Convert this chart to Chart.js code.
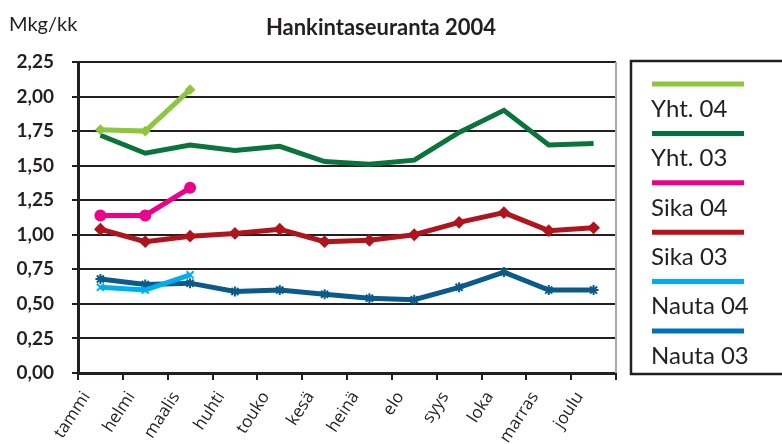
<!DOCTYPE html>
<html>
<head>
<meta charset="utf-8">
<style>
    body { margin: 0; background: #fff; }
    canvas { display: block; }
</style>
</head>
<body>
<canvas id="hankintaChart" width="782" height="444"></canvas>

<script src="https://cdn.jsdelivr.net/npm/chart.js"></script>
<script>
    // kuukaudet ja sarjat (Mkg/kk)
    const months = ['tammi', 'helmi', 'maalis', 'huhti', 'touko', 'kesä', 'heinä', 'elo', 'syys', 'loka', 'marras', 'joulu'];
    const seriesNames = ['Yht. 04', 'Yht. 03', 'Sika 04', 'Sika 03', 'Nauta 04', 'Nauta 03'];
    const yht04 = [1.76, 1.75, 2.05];
    const yht03 = [1.72, 1.59, 1.65, 1.61, 1.64, 1.53, 1.51, 1.54, 1.74, 1.90, 1.65, 1.66];
    const sika04 = [1.14, 1.14, 1.34];
    const sika03 = [1.04, 0.95, 0.99, 1.01, 1.04, 0.95, 0.96, 1.00, 1.09, 1.16, 1.03, 1.05];
    const nauta04 = [0.62, 0.60, 0.71];
    const nauta03 = [0.68, 0.64, 0.65, 0.59, 0.60, 0.57, 0.54, 0.53, 0.62, 0.73, 0.60, 0.60];
    const yMin = 0, yMax = 2.25, yStep = 0.25;

    const lineColors = ['#8DC63F', '#0B743C', '#EC008C', '#B0141C', '#00AEEF', '#0A5A8A'];
    const legendColors = ['#8DC63F', '#00703C', '#EC008C', '#B5121B', '#00AEEF', '#0072BC'];
    const markers = ['rectRot', 'circle', 'circle', 'rectRot', 'crossRot', 'star'];
    const markerSize = [4, 0, 5, 5, 5, 5];

    const allData = [yht04, yht03, sika04, sika03, nauta04, nauta03];

    // otsikko, yksikkö ja oma selite
    const decorPlugin = {
        id: 'decor',
        afterDraw(chart) {
            const c = chart.ctx;
            c.save();
            c.fillStyle = '#231F20';
            c.textBaseline = 'middle';
            c.font = 'bold 22px Lato';
            c.textAlign = 'center';
            c.fillText('Hankintaseuranta 2004', 381, 28);
            c.font = '20px Lato';
            c.textAlign = 'left';
            c.fillText('Mkg/kk', 9, 25);

            // selitelaatikko
            c.strokeStyle = '#231F20';
            c.lineWidth = 2.5;
            c.strokeRect(631, 61, 170, 313);
            c.font = '24px Lato';
            seriesNames.forEach((name, i) => {
                const y = 84 + i * 49.4;
                c.strokeStyle = legendColors[i];
                c.lineWidth = 5;
                c.beginPath();
                c.moveTo(652, y);
                c.lineTo(744, y);
                c.stroke();
                c.fillStyle = '#231F20';
                c.fillText(name, 651, y + 25);
            });

            // oikea reuna harmaana
            const a = chart.chartArea;
            c.strokeStyle = '#A7A9AC';
            c.lineWidth = 2;
            c.beginPath();
            c.moveTo(a.right, a.top);
            c.lineTo(a.right, a.bottom);
            c.stroke();
            c.restore();
        }
    };

    const ctx = document.getElementById('hankintaChart').getContext('2d');
    new Chart(ctx, {
        type: 'line',
        data: {
            labels: months,
            datasets: seriesNames.map((name, i) => ({
                label: name,
                data: allData[i],
                borderColor: lineColors[i],
                backgroundColor: lineColors[i],
                pointBackgroundColor: lineColors[i],
                pointBorderColor: lineColors[i],
                pointStyle: markers[i],
                pointRadius: markerSize[i],
                pointBorderWidth: 2,
                borderWidth: 5,
                tension: 0,
                fill: false
            }))
        },
        options: {
            responsive: false,
            animation: false,
            layout: { padding: { top: 62, right: 166, left: 0, bottom: 0 } },
            plugins: {
                legend: { display: false },
                title: { display: false },
                tooltip: { enabled: false }
            },
            scales: {
                x: {
                    offset: true,
                    afterFit(scale) { scale.height = 71; },
                    border: { color: '#231F20', width: 3 },
                    grid: {
                        offset: true,
                        drawOnChartArea: false,
                        color: '#231F20',
                        lineWidth: 2,
                        tickLength: 7
                    },
                    ticks: {
                        autoSkip: false,
                        minRotation: 57,
                        maxRotation: 57,
                        labelOffset: -14,
                        padding: 8,
                        color: '#231F20',
                        font: { family: 'Open Sans', size: 17 }
                    }
                },
                y: {
                    min: yMin,
                    max: yMax,
                    afterFit(scale) { scale.width = 78; },
                    border: { color: '#231F20', width: 3 },
                    grid: {
                        color: '#231F20',
                        lineWidth: 2,
                        tickLength: 6
                    },
                    ticks: {
                        stepSize: yStep,
                        padding: 18,
                        color: '#231F20',
                        font: { family: 'Lato', size: 19, weight: 'bold' },
                        callback: v => v.toFixed(2).replace('.', ',')
                    }
                }
            }
        },
        plugins: [decorPlugin]
    });
</script>
</body>
</html>
